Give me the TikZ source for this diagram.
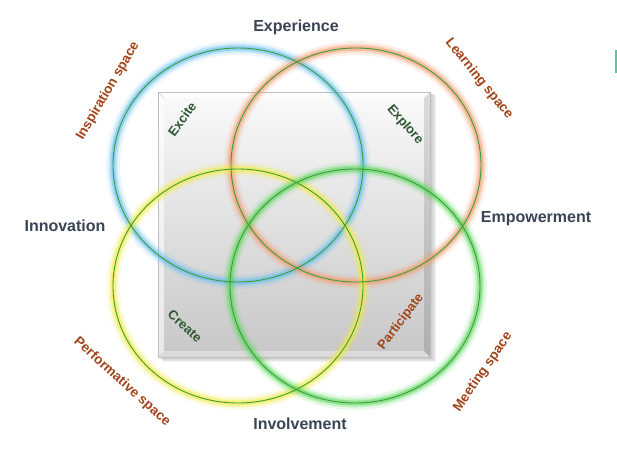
\documentclass[tikz,border=0pt]{standalone}
\usepackage{fontspec}
\setmainfont{Liberation Sans}
\usetikzlibrary{calc}

\definecolor{ringline}{HTML}{3B9B3B}
\definecolor{glowblue}{HTML}{62BEF0}
\definecolor{gloworange}{HTML}{F59A6A}
\definecolor{glowyellow}{HTML}{F2EC3C}
\definecolor{glowgreen}{HTML}{58D858}
\definecolor{themecol}{HTML}{3A4457}
\definecolor{spacecol}{HTML}{A2441A}
\definecolor{verbcol}{HTML}{2F5631}
\definecolor{edgeteal}{HTML}{5EC4A4}

\tikzset{
  theme/.style={font=\fontsize{16}{19}\selectfont\bfseries, text=themecol},
  space/.style={font=\fontsize{13.5}{16}\selectfont\bfseries, text=spacecol},
  verb/.style={font=\fontsize{13}{15}\selectfont\bfseries, text=verbcol},
}
\def\ringglow(#1)[#2]{%
  \draw[#2, line width=14, opacity=0.12] (#1) ellipse [x radius=125, y radius=117];
  \draw[#2, line width=9, opacity=0.25] (#1) ellipse [x radius=125, y radius=117];
  \draw[#2, line width=5, opacity=0.5] (#1) ellipse [x radius=125, y radius=117];}

\begin{document}
\begin{tikzpicture}[x=1pt, y=-1pt]
	%%%%% START %%%%%
	
	\fill[white] (0, 0) rectangle (617, 458);
	\useasboundingbox (0, 0) rectangle (617, 458);
	
	% shadow of the square
	\foreach \i in {1,...,5}
		\fill[black, opacity=0.05] (158+\i, 92+0.5*\i) rectangle (430+1.2*\i, 357+\i);
	
	% bevelled square
	\shade[top color=black!2, bottom color=black!22] (158, 92) rectangle (430, 357);
	\fill[white, opacity=0.7] (158, 92) -- (430, 92) -- (424, 98) -- (164, 98) -- cycle;
	\fill[white, opacity=0.6] (158, 92) -- (164, 98) -- (164, 351) -- (158, 357) -- cycle;
	\fill[black, opacity=0.12] (430, 92) -- (430, 357) -- (424, 351) -- (424, 98) -- cycle;
	\fill[white, opacity=0.35] (158, 357) -- (430, 357) -- (424, 351) -- (164, 351) -- cycle;
	\draw[black!25, line width=0.6] (158, 92) rectangle (430, 357);
	\draw[black!18, line width=0.5] (158, 92) -- (164, 98);
	
	% glowing rings
	\coordinate (inspire) at (238, 165);
	\coordinate (learn) at (356, 165);
	\coordinate (perform) at (238, 286);
	\coordinate (meet) at (355, 286);
	
	\ringglow(inspire)[glowblue]
	\ringglow(learn)[gloworange]
	\ringglow(perform)[glowyellow]
	\ringglow(meet)[glowgreen]
	
	\foreach \c in {inspire, learn, perform, meet}
		\draw[ringline, line width=0.9] (\c) ellipse [x radius=125, y radius=117];
	
	% themes
	\node[theme] (experience) at (296, 27) {Experience};
	\node[theme] (innovation) at (65, 226) {Innovation};
	\node[theme] (empowerment) at (536, 219) {Empowerment};
	\node[theme] (involvement) at (300, 424) {Involvement};
	
	% spaces
	\node[space, rotate=59.5] (inspirationspace) at (108, 91) {Inspiration space};
	\node[space, rotate=-51] (learningspace) at (479, 79) {Learning space};
	\node[space, rotate=-42] (performativespace) at (122, 382) {Performative space};
	\node[space, rotate=55.5] (meetingspace) at (483, 372) {Meeting space};
	
	% verbs
	\node[verb, rotate=54] (excite) at (182, 119) {Excite};
	\node[verb, rotate=-49] (explore) at (405, 125) {Explore};
	\node[verb, rotate=-42] (create) at (185, 326) {Create};
	\node[verb, rotate=53, text=spacecol] (participate) at (401, 322) {Participate};
	
	\fill[edgeteal] (615, 50) rectangle (617, 73);
	
	%%%%% END %%%%%
\end{tikzpicture}
\end{document}
